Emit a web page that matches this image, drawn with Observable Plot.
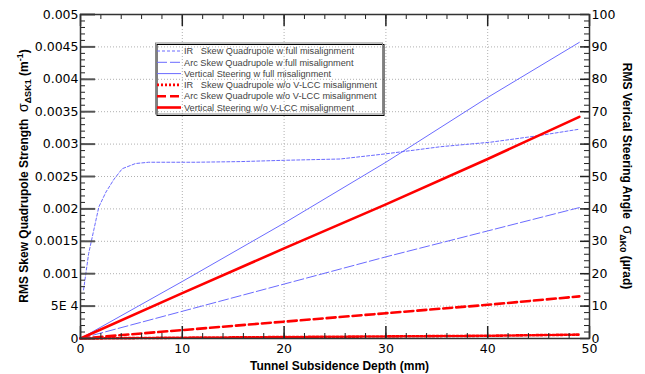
<!DOCTYPE html>
<html><head><meta charset="utf-8">
<script src="https://cdn.jsdelivr.net/npm/d3@7"></script>
<script src="https://cdn.jsdelivr.net/npm/@observablehq/plot@0.6"></script>
<style>
body{margin:0;background:#fff;}
#wrap{position:relative;width:645px;height:374px;}
</style></head><body><div id="wrap"></div>
<script>
// ---- data ----
const depthIR = [0.3, 0.8, 1.3, 1.8, 2.5, 3.3, 4.1, 5.4, 6.7, 8, 11.3, 15.7, 20, 25.5, 30, 35.4, 40.3, 45, 49];
const irFull  = [0.00075, 0.00131, 0.00167, 0.00203, 0.00226, 0.00246, 0.00262, 0.0027, 0.00272, 0.00272, 0.00272, 0.00273, 0.00275, 0.00277, 0.00285, 0.00296, 0.00303, 0.00313, 0.00323];
const depth   = [0, 10, 20, 30, 40, 49];
const arcFull = [0, 0.00042, 0.00084, 0.00126, 0.00166, 0.00202];
const vertFull= [0, 0.00088, 0.00178, 0.00272, 0.00372, 0.00457];
const irNo    = [0, 0.000012, 0.000022, 0.000032, 0.000042, 0.00006];
const arcNo   = [0, 0.00013, 0.00026, 0.00039, 0.00052, 0.00065];
const vertNo  = [0, 0.0007, 0.00139, 0.00207, 0.00277, 0.00342];

const xTicks = [0, 10, 20, 30, 40, 50];
const leftTicks  = [0, 0.0005, 0.001, 0.0015, 0.002, 0.0025, 0.003, 0.0035, 0.004, 0.0045, 0.005];
const leftLabels = ["0", "5E 4", "0.001", "0.0015", "0.002", "0.0025", "0.003", "0.0035", "0.004", "0.0045", "0.005"];
const rightTicks = [0, 10, 20, 30, 40, 50, 60, 70, 80, 90, 100];
const rightPerLeft = 20000; // µrad per m^-1 on the twin axis

const legendLabels = [
  "IR   Skew Quadrupole w full misalignment",
  "Arc Skew Quadrupole w full misalignment",
  "Vertical Steering w full misalignment",
  "IR   Skew Quadrupole w/o V-LCC misalignment",
  "Arc Skew Quadrupole w/o V-LCC misalignment",
  "Vertical Steering w/o V-LCC misalignment"
];

// ---- styles ----
const BLUE = "#6b6bff", RED = "#ff0000";
const styles = [
  {stroke: BLUE, strokeWidth: 1, strokeDasharray: "3,2"},
  {stroke: BLUE, strokeWidth: 1, strokeDasharray: "10,3"},
  {stroke: BLUE, strokeWidth: 1},
  {stroke: RED, strokeWidth: 2.6, strokeDasharray: "2,2"},
  {stroke: RED, strokeWidth: 2.6, strokeDasharray: "9,4"},
  {stroke: RED, strokeWidth: 2.6}
];
const rows = (xs, ys) => xs.map((x, i) => ({x, y: ys[i]}));
const series = [rows(depthIR, irFull), rows(depth, arcFull), rows(depth, vertFull),
                rows(depth, irNo), rows(depth, arcNo), rows(depth, vertNo)];

const W = 645, H = 374, ML = 80, MR = 56, MT = 14, MB = 36;
const FW = W - ML - MR, FH = H - MT - MB;

const yMinor = d3.range(0, 51).map(i => i * 0.0001);
const xMinor = d3.range(0, 51, 2);
const rMinor = d3.range(0, 101, 2).map(v => v / rightPerLeft);

const lf = d => leftLabels[leftTicks.indexOf(d)];

const plot = Plot.plot({
  width: W, height: H,
  marginLeft: ML, marginRight: MR, marginTop: MT, marginBottom: MB,
  style: {fontFamily: "'DejaVu Sans', sans-serif", fontSize: "12.5px", color: "#000", background: "#fff"},
  x: {domain: [0, 50]},
  y: {domain: [0, 0.005]},
  marks: [
    Plot.gridY(leftTicks.slice(1, -1), {stroke: "#b0b0b0", strokeOpacity: 1, strokeDasharray: "1,2"}),
    Plot.gridX(xTicks.slice(1, -1), {stroke: "#b0b0b0", strokeOpacity: 1, strokeDasharray: "1,2"}),
    ...series.map((s, i) => Plot.line(s, {x: "x", y: "y", ...styles[i]})),
    // left ticks (inward)
    Plot.tickY(yMinor, {y: d => d, insetRight: FW - 5, stroke: "#222", strokeWidth: 1}),
    Plot.tickY(leftTicks, {y: d => d, insetRight: FW - 15, stroke: "#555", strokeWidth: 2}),
    // right ticks (inward)
    Plot.tickY(rMinor, {y: d => d, insetLeft: FW - 5, stroke: "#222", strokeWidth: 1}),
    Plot.tickY(rightTicks.map(v => v / rightPerLeft), {y: d => d, insetLeft: FW - 9, stroke: "#222", strokeWidth: 1.5}),
    // bottom ticks
    Plot.tickX(xMinor, {x: d => d, insetTop: FH - 5, stroke: "#222", strokeWidth: 1}),
    Plot.tickX(xTicks, {x: d => d, insetTop: FH - 12, stroke: "#222", strokeWidth: 1.5}),
    // top ticks
    Plot.tickX(xMinor, {x: d => d, insetBottom: FH - 5, stroke: "#222", strokeWidth: 1}),
    Plot.tickX(xTicks, {x: d => d, insetBottom: FH - 12, stroke: "#222", strokeWidth: 1.5}),
    Plot.frame({stroke: "#333", strokeWidth: 1.5}),
    Plot.axisX(xTicks, {tickSize: 0, tickPadding: 6, label: null}),
    Plot.axisY(leftTicks, {anchor: "left", tickSize: 0, tickPadding: 2, tickFormat: lf, label: null}),
    Plot.axisY(rightTicks.map(v => v / rightPerLeft), {anchor: "right", tickSize: 0, tickPadding: 2,
      tickFormat: d => String(Math.round(d * rightPerLeft)), label: null})
  ]
});
document.getElementById("wrap").appendChild(plot);

// ---- titles and legend ----
const svg = d3.select(plot);
const bold = "font-family:'Liberation Sans',Arial,sans-serif;font-weight:bold;font-size:12px;fill:#000;";

svg.append("text").attr("x", ML + FW / 2 + 5).attr("y", 370).attr("text-anchor", "middle")
  .attr("style", bold).text("Tunnel Subsidence Depth (mm)");

const lt = svg.append("text").attr("transform", "translate(28,176) rotate(-90)").attr("text-anchor", "middle")
  .attr("style", bold + "white-space:pre;");
lt.append("tspan").text("RMS Skew Quadrupole Strength  ");
lt.append("tspan").attr("style", "font-weight:normal;font-size:14px;").text("σ");
lt.append("tspan").attr("dy", 3).attr("style", "font-size:9px;").text("ΔSK1");
lt.append("tspan").attr("dy", -3).text(" (m");
lt.append("tspan").attr("dy", -5).attr("style", "font-size:9px;").text("-1");
lt.append("tspan").attr("dy", 5).text(")");

const rt = svg.append("text").attr("transform", "translate(623,176) rotate(90)").attr("text-anchor", "middle")
  .attr("style", bold + "white-space:pre;");
rt.append("tspan").text("RMS Verical Steering Angle  ");
rt.append("tspan").attr("style", "font-weight:normal;font-size:14px;").text("σ");
rt.append("tspan").attr("dy", 3).attr("style", "font-size:9px;").text("ΔK0");
rt.append("tspan").attr("dy", -3).text(" (µrad)");

const lg = svg.append("g").attr("text-anchor", "start");
const LX = 155.5, LY = 43, LW = 227, LH = 71;
lg.append("rect").attr("x", LX + 1.5).attr("y", LY + 1.5).attr("width", LW).attr("height", LH)
  .attr("fill", "none").attr("stroke", "#000").attr("stroke-width", 1);
lg.append("rect").attr("x", LX).attr("y", LY).attr("width", LW).attr("height", LH)
  .attr("fill", "none").attr("stroke", "#888").attr("stroke-width", 1);
legendLabels.forEach((lab, i) => {
  const y = 51 + i * 11.3;
  const st = styles[i];
  lg.append("line").attr("x1", 157).attr("x2", 181).attr("y1", y).attr("y2", y)
    .attr("stroke", st.stroke).attr("stroke-width", st.strokeWidth)
    .attr("stroke-dasharray", st.strokeDasharray || null);
  lg.append("text").attr("x", 184).attr("y", y + 3.2).attr("text-anchor", "start")
    .attr("style", "font-family:'Liberation Sans',Arial,sans-serif;font-size:9.2px;fill:#444;white-space:pre;")
    .text(lab);
});
</script>
</body></html>
